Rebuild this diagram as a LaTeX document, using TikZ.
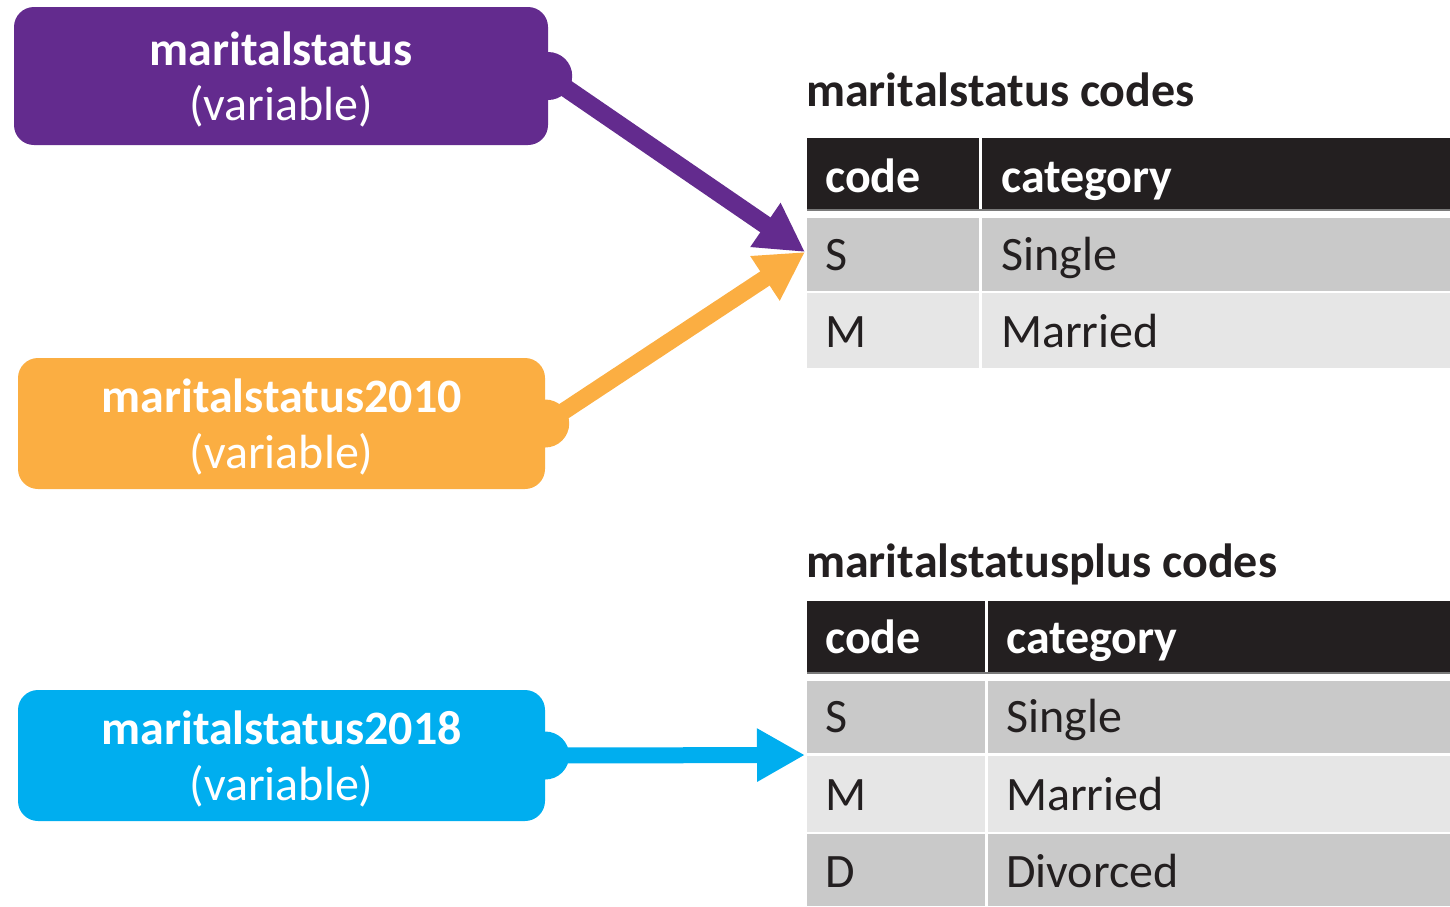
\documentclass[tikz,border=0pt]{standalone}
\usepackage{fontspec}
\setmainfont{Carlito}
\usetikzlibrary{arrows.meta}
\definecolor{vpurple}{HTML}{632B8E}
\definecolor{vorange}{HTML}{FBAE42}
\definecolor{vblue}{HTML}{00AEEF}
\definecolor{hdr}{HTML}{231F20}
\definecolor{rowa}{HTML}{C9C9C9}
\definecolor{rowb}{HTML}{E6E6E6}
\definecolor{hline}{HTML}{7A7A7A}
\begin{document}
\begin{tikzpicture}[x=1pt,y=-1pt,
  big/.style={font=\fontsize{48}{57}\selectfont, inner sep=0pt},
  varbox/.style={rounded corners=20pt, inner sep=0pt, minimum width=527pt, minimum height=131pt},
  bump/.style={circle, inner sep=0pt, minimum size=48pt},
  boxname/.style={big, text=white, font=\fontsize{48}{57}\selectfont\bfseries, anchor=base},
  boxsub/.style={big, text=white, anchor=base},
  htext/.style={big, text=white, font=\fontsize{48}{57}\selectfont\bfseries, anchor=base west},
  ctext/.style={big, text=hdr, anchor=base west},
  ttitle/.style={big, text=hdr, font=\fontsize{48}{57}\selectfont\bfseries, anchor=base west},
  varrow/.style={-{Triangle[length=48pt,width=50pt]}}
]
\useasboundingbox (0,0) rectangle (1450,906);

% variable boxes
\node[varbox, fill=vpurple, minimum width=534pt, minimum height=138pt] (b1) at (281,76) {};
\node[bump, fill=vpurple] (b1bump) at (b1.east) {};
\node[boxname] (b1name) at (281,65) {maritalstatus};
\node[boxsub] (b1sub) at (281,120) {(variable)};

\node[varbox, fill=vorange] (b2) at (281.5,423.5) {};
\node[bump, fill=vorange] (b2bump) at (b2.east) {};
\node[boxname] (b2name) at (281.5,412) {maritalstatus2010};
\node[boxsub] (b2sub) at (281.5,468) {(variable)};

\node[varbox, fill=vblue] (b3) at (281.5,755.5) {};
\node[bump, fill=vblue] (b3bump) at (b3.east) {};
\node[boxname] (b3name) at (281.5,744) {maritalstatus2018};
\node[boxsub] (b3sub) at (281.5,800) {(variable)};

% table 1
\node[ttitle] (t1title) at (806,106) {maritalstatus codes};
\fill[hdr] (807,138) rectangle (979,211);
\fill[hdr] (982,138) rectangle (1450,211);
\fill[hline] (807,209) rectangle (1450,211);
\fill[rowa] (807,218) rectangle (979,291);
\fill[rowa] (982,218) rectangle (1450,291);
\fill[rowb] (807,293) rectangle (979,368);
\fill[rowb] (982,293) rectangle (1450,368);
\node[htext] (t1h1) at (825,192) {code};
\node[htext] (t1h2) at (1001,192) {category};
\node[ctext] (t1c1) at (825,270) {S};
\node[ctext] (t1d1) at (1001,270) {Single};
\node[ctext] (t1c2) at (825,347) {M};
\node[ctext] (t1d2) at (1001,347) {Married};
\coordinate (t1target) at (805,252);

% table 2
\node[ttitle] (t2title) at (806,577) {maritalstatusplus codes};
\fill[hdr] (807,601) rectangle (985,674);
\fill[hdr] (988,601) rectangle (1450,674);
\fill[hline] (807,672) rectangle (1450,674);
\fill[rowa] (807,681) rectangle (985,753);
\fill[rowa] (988,681) rectangle (1450,753);
\fill[rowb] (807,756) rectangle (985,832);
\fill[rowb] (988,756) rectangle (1450,832);
\fill[rowa] (807,834) rectangle (985,906);
\fill[rowa] (988,834) rectangle (1450,906);
\node[htext] (t2h1) at (825,653) {code};
\node[htext] (t2h2) at (1006,653) {category};
\node[ctext] (t2c1) at (825,732) {S};
\node[ctext] (t2d1) at (1006,732) {Single};
\node[ctext] (t2c2) at (825,810) {M};
\node[ctext] (t2d2) at (1006,810) {Married};
\node[ctext] (t2c3) at (825,887) {D};
\node[ctext] (t2d3) at (1006,887) {Divorced};
\coordinate (t2target) at (805,755);

% arrows
\draw[varrow, vorange, line width=17pt] (b2bump.center) -- (t1target);
\draw[varrow, vpurple, line width=18pt] (b1bump.center) -- (t1target);
\draw[varrow, vblue, line width=16pt] (b3bump.center) -- (t2target);
\end{tikzpicture}
\end{document}
